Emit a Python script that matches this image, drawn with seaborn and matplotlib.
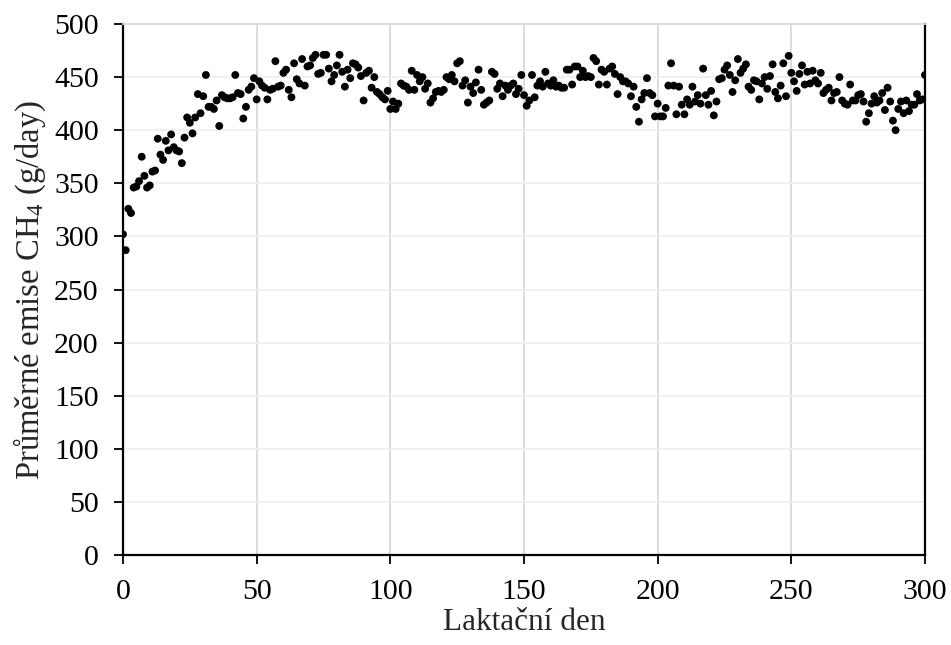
import matplotlib
matplotlib.use("Agg")
import matplotlib.pyplot as plt
import numpy as np
import pandas as pd
import seaborn as sns

# Lactation day (0-300) and mean daily CH4 emission (g/day)
den = list(range(0, 301))
emise = [
    302, 287, 326, 322, 346, 347, 352, 375, 357, 346,
    348, 361, 362, 392, 377, 372, 390, 381, 396, 384,
    381, 380, 369, 393, 412, 407, 397, 412, 434, 416,
    432, 452, 422, 422, 420, 428, 404, 433, 431, 430,
    430, 431, 452, 435, 434, 411, 422, 438, 441, 449,
    429, 446, 442, 440, 429, 438, 439, 465, 441, 442,
    454, 457, 438, 431, 463, 448, 444, 467, 442, 460,
    461, 468, 471, 453, 454, 471, 471, 458, 446, 452,
    461, 471, 455, 441, 457, 449, 463, 462, 459, 451,
    428, 454, 456, 440, 450, 436, 434, 431, 429, 437,
    420, 427, 420, 425, 444, 442, 441, 438, 456, 438,
    452, 446, 450, 439, 444, 426, 430, 436, 437, 436,
    438, 450, 448, 452, 446, 463, 465, 442, 447, 426,
    441, 435, 445, 457, 438, 424, 426, 428, 455, 453,
    439, 444, 432, 442, 438, 442, 444, 434, 439, 452,
    433, 423, 428, 452, 431, 442, 446, 441, 455, 444,
    442, 447, 441, 442, 440, 440, 457, 457, 443, 460,
    460, 450, 456, 450, 451, 450, 468, 465, 443, 457,
    455, 443, 458, 460, 453, 434, 450, 446, 446, 444,
    432, 441, 422, 408, 429, 435, 449, 435, 433, 413,
    425, 413, 413, 421, 442, 463, 442, 415, 441, 424,
    415, 429, 424, 441, 427, 433, 425, 458, 433, 424,
    437, 414, 427, 448, 449, 457, 461, 452, 436, 447,
    467, 454, 458, 462, 441, 438, 447, 446, 429, 444,
    450, 439, 451, 462, 436, 430, 442, 463, 432, 470,
    454, 446, 437, 453, 461, 443, 455, 444, 456, 447,
    444, 454, 435, 438, 440, 428, 435, 436, 450, 428,
    425, 424, 443, 428, 428, 433, 434, 427, 408, 416,
    425, 432, 426, 428, 435, 419, 440, 427, 409, 400,
    420, 427, 416, 428, 418, 424, 424, 434, 428, 429,
    452,
]

x_ticks = [0, 50, 100, 150, 200, 250, 300]
y_ticks = [0, 50, 100, 150, 200, 250, 300, 350, 400, 450, 500]

df = pd.DataFrame({"den": den, "emise": emise})

sns.set_style("ticks")
plt.rcParams["font.family"] = ["Liberation Serif", "DejaVu Serif"]
plt.rcParams["mathtext.fontset"] = "custom"
plt.rcParams["mathtext.rm"] = "Liberation Serif"
plt.rcParams["mathtext.default"] = "regular"

fig = plt.figure(figsize=(9.51, 6.45), dpi=100)
ax = fig.add_axes([123 / 951, 1 - 555 / 645, 802 / 951, 531 / 645])

sns.scatterplot(data=df, x="den", y="emise", ax=ax, color="black",
                s=32, edgecolor="none", linewidth=0, zorder=3)

ax.set_xlim(0, 300)
ax.set_ylim(0, 500)
ax.set_xticks(x_ticks)
ax.set_yticks(y_ticks)

ax.set_axisbelow(True)
ax.xaxis.grid(True, color="#d9d9d9", linewidth=1.3)
ax.yaxis.grid(True, color="#efefef", linewidth=1.3)

for side in ["left", "bottom", "right"]:
    ax.spines[side].set_color("black")
    ax.spines[side].set_linewidth(1.6)
ax.spines["top"].set_color("#d9d9d9")
ax.spines["top"].set_linewidth(1.3)

ax.tick_params(axis="both", direction="out", length=6.5, width=1.3,
               labelsize=21.5, colors="black")
ax.tick_params(axis="y", pad=11)
ax.tick_params(axis="x", pad=11)

ax.set_xlabel("Laktační den", fontsize=22.5, labelpad=2)
ax.set_ylabel("Průměrné emise CH$_4$ (g/day)", fontsize=23.5, labelpad=4)

fig.savefig("out.png", dpi=100, facecolor="white")
